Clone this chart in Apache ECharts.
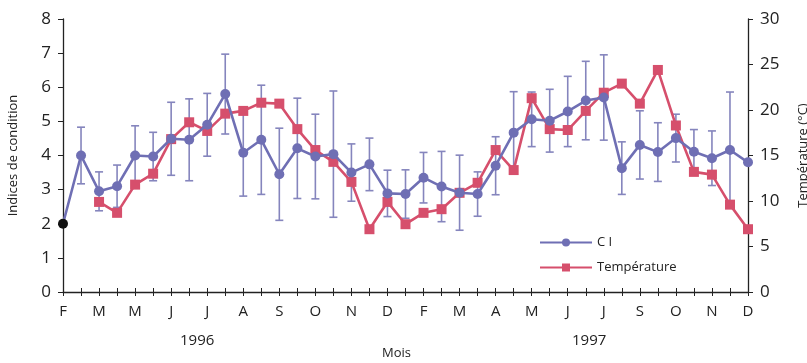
<!DOCTYPE html>
<html><head><meta charset="utf-8">
<script src="https://cdn.jsdelivr.net/npm/echarts@6/dist/echarts.min.js"></script>
<style>html,body{margin:0;padding:0;background:#fff}#c{width:807px;height:363px}</style>
</head><body><div id="c"></div>
<script>
// Month labels shown on every second point (bi-monthly sampling)
var monthLabels = ['F','M','M','J','J','A','S','O','N','D','F','M','A','M','J','J','S','O','N','D'];
var ci = [2.0, 4.0, 2.95, 3.1, 4.0, 3.97, 4.49, 4.46, 4.9, 5.8, 4.08, 4.46, 3.45, 4.21, 3.97, 4.04, 3.5, 3.74, 2.89, 2.87, 3.35, 3.09, 2.91, 2.87, 3.7, 4.67, 5.06, 5.02, 5.29, 5.61, 5.7, 3.63, 4.31, 4.1, 4.51, 4.11, 3.92, 4.16, 3.8];
var ciErr = [null, 0.83, 0.57, 0.62, 0.87, 0.71, 1.07, 1.2, 0.92, 1.17, 1.27, 1.6, 1.35, 1.47, 1.24, 1.85, 0.84, 0.77, 0.68, 0.71, 0.74, 1.03, 1.1, 0.65, 0.85, 1.2, 0.8, 0.92, 1.03, 1.15, 1.25, 0.77, 1.0, 0.86, 0.7, 0.65, 0.8, 1.7, null];
var temp = [null, null, 9.9, 8.7, 11.8, 13.0, 16.8, 18.65, 17.7, 19.6, 19.9, 20.8, 20.7, 17.9, 15.6, 14.3, 12.1, 6.9, 9.9, 7.45, 8.7, 9.1, 10.9, 12.0, 15.6, 13.4, 21.3, 17.9, 17.8, 19.9, 21.9, 22.9, 20.7, 24.4, 18.3, 13.2, 12.9, 9.6, 6.9];
var yearLabels = ['1996', '1997'];

var categories = [];
for (var i = 0; i < ci.length; i++) categories.push(i % 2 === 0 ? monthLabels[i / 2] : '');

var CI_COLOR = '#6f6fb4', T_COLOR = '#d64f6c', ERR_COLOR = '#8585bd';
var FONT = 'Open Sans';

var ciData = ci.map(function (v, i) {
  return i === 0 ? { value: v, itemStyle: { color: '#111' } } : v;
});
var errData = [];
ci.forEach(function (v, i) { if (ciErr[i] != null) errData.push([i, v - ciErr[i], v + ciErr[i]]); });

var chart = echarts.init(document.getElementById('c'));
chart.setOption({
  animation: false,
  textStyle: { fontFamily: FONT },
  grid: { left: 63, right: 59, top: 19, bottom: 71, containLabel: false, outerBoundsMode: 'none' },
  legend: {
    data: ['CI', 'Température'], orient: 'vertical', left: 534, top: 231,
    itemWidth: 52, itemHeight: 10, itemGap: 12,
    formatter: function (n) { return n === 'CI' ? 'C I' : n; },
    textStyle: { fontFamily: FONT, fontSize: 13, color: '#222' }
  },
  xAxis: [{
    type: 'category', data: categories, boundaryGap: false,
    axisLine: { lineStyle: { color: '#222', width: 1.3 } },
    axisTick: { interval: 0, length: 4, lineStyle: { color: '#222' } },
    axisLabel: { interval: 0, fontSize: 15, color: '#222', margin: 12, fontFamily: FONT },
    splitLine: { show: false }
  }, {
    type: 'category', data: categories, boundaryGap: false, position: 'bottom',
    axisLine: { show: false },
    axisTick: { interval: 0, inside: true, length: 4, lineStyle: { color: '#222' } },
    axisLabel: { show: false }, splitLine: { show: false }
  }],
  yAxis: [{
    type: 'value', min: 0, max: 8, interval: 1,
    name: 'Indices de condition', nameLocation: 'middle', nameRotate: 90, nameGap: 43,
    nameTextStyle: { fontSize: 13, color: '#222', fontFamily: FONT },
    axisLine: { show: true, lineStyle: { color: '#222', width: 1.3 } },
    axisTick: { show: true, length: 5, lineStyle: { color: '#222' } },
    axisLabel: { fontSize: 17, color: '#222', margin: 12, fontFamily: FONT },
    splitLine: { show: false }
  }, {
    type: 'value', min: 0, max: 30, interval: 5, position: 'right',
    name: 'Température (°C)', nameLocation: 'middle', nameRotate: 90, nameGap: 49,
    nameTextStyle: { fontSize: 13, color: '#222', fontFamily: FONT },
    axisLine: { show: true, lineStyle: { color: '#222', width: 1.3 } },
    axisTick: { show: true, length: 5, lineStyle: { color: '#222' } },
    axisLabel: { fontSize: 17, color: '#222', margin: 12, fontFamily: FONT },
    splitLine: { show: false }
  }],
  graphic: [
    { type: 'text', left: 180, top: 333, style: { text: yearLabels[0], font: '15px "Open Sans"', fill: '#222' } },
    { type: 'text', left: 572, top: 333, style: { text: yearLabels[1], font: '15px "Open Sans"', fill: '#222' } },
    { type: 'text', left: 382, top: 347, style: { text: 'Mois', font: '13px "Open Sans"', fill: '#222' } }
  ],
  series: [{
    type: 'custom', name: 'err', yAxisIndex: 0, z: 1, silent: true,
    data: errData,
    renderItem: function (params, api) {
      var x = api.value(0);
      var lo = api.coord([x, api.value(1)]);
      var hi = api.coord([x, api.value(2)]);
      var cap = 4;
      var st = { stroke: ERR_COLOR, lineWidth: 1.6 };
      return { type: 'group', children: [
        { type: 'line', shape: { x1: lo[0], y1: lo[1], x2: hi[0], y2: hi[1] }, style: st },
        { type: 'line', shape: { x1: lo[0] - cap, y1: lo[1], x2: lo[0] + cap, y2: lo[1] }, style: st },
        { type: 'line', shape: { x1: hi[0] - cap, y1: hi[1], x2: hi[0] + cap, y2: hi[1] }, style: st }
      ] };
    }
  }, {
    name: 'Température', type: 'line', yAxisIndex: 1, data: temp, z: 3,
    symbol: 'rect', symbolSize: 10, connectNulls: false,
    itemStyle: { color: T_COLOR }, lineStyle: { color: T_COLOR, width: 2.6 }
  }, {
    name: 'CI', type: 'line', yAxisIndex: 0, data: ciData, z: 4,
    symbol: 'circle', symbolSize: 10,
    itemStyle: { color: CI_COLOR }, lineStyle: { color: CI_COLOR, width: 2.6 }
  }]
});
</script></body></html>
